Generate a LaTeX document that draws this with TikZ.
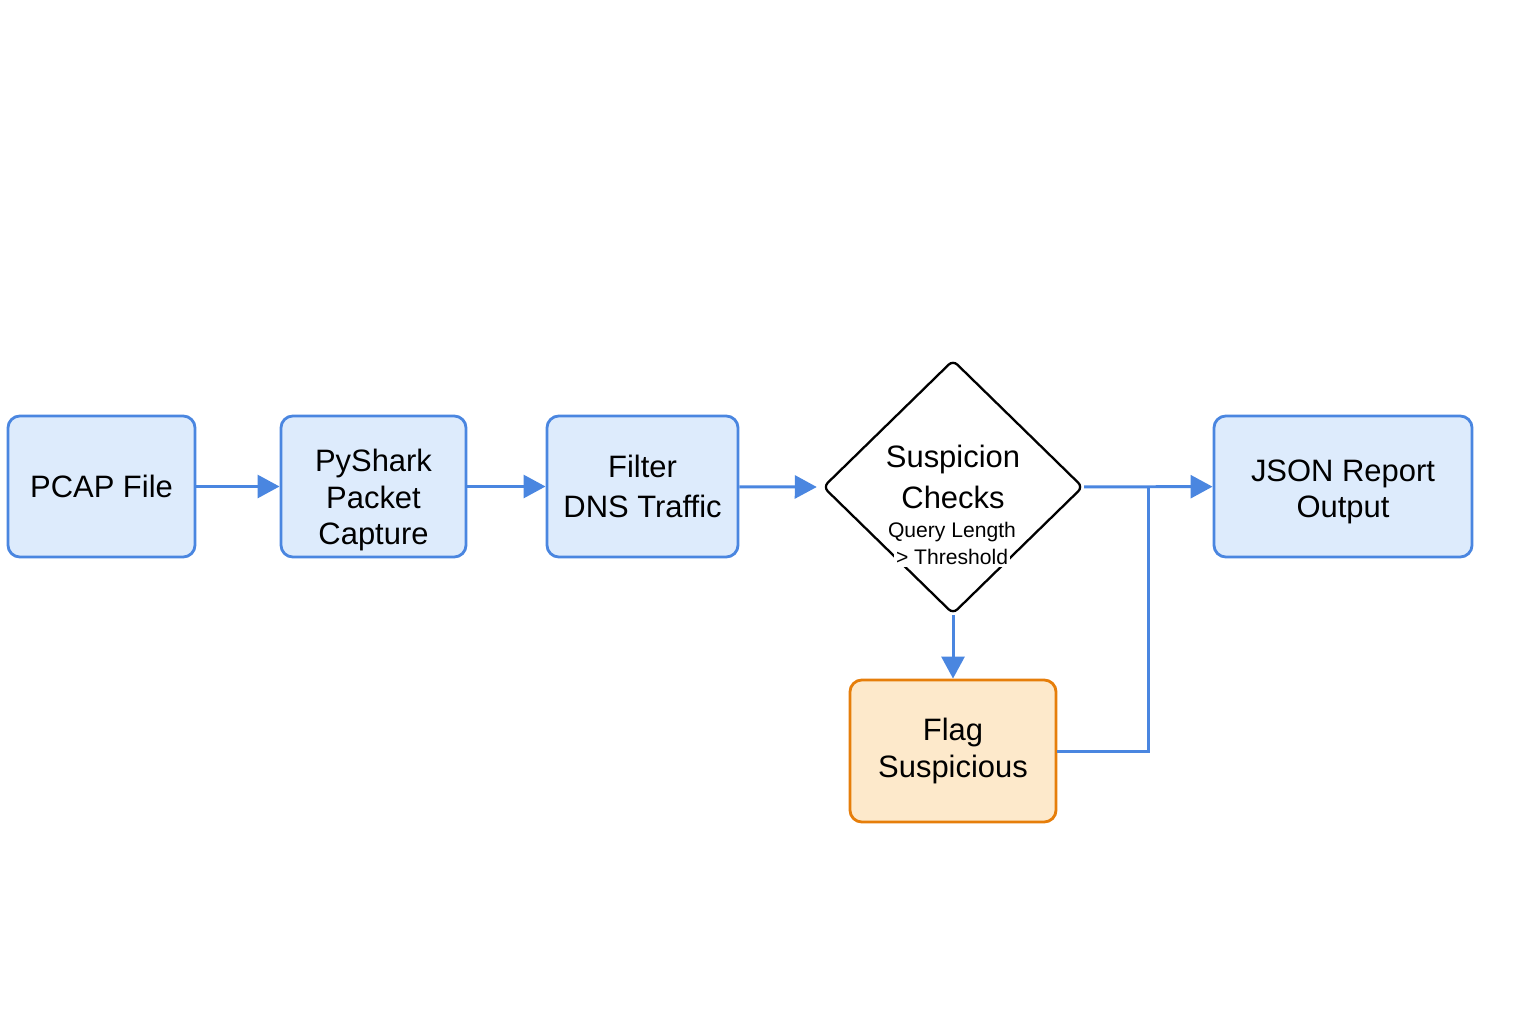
\documentclass[tikz,border=0pt]{standalone}
\usepackage{fontspec}
\setmainfont{Liberation Sans}
\usetikzlibrary{arrows.meta,positioning,shapes.geometric}

\definecolor{flowblue}{HTML}{4A86E0}
\definecolor{boxblue}{HTML}{DDEBFC}
\definecolor{flagfill}{HTML}{FDE9CB}
\definecolor{flagline}{HTML}{E67E0A}

\begin{document}
\begin{tikzpicture}[x=0.01cm,y=-0.01cm,
    every node/.style={font=\fontsize{8.8}{10.4}\selectfont, align=center},
    stage/.style={draw=flowblue, fill=boxblue, line width=0.8pt, rounded corners=0.12cm,
        minimum height=1.41cm, inner sep=0pt},
    flagbox/.style={stage, draw=flagline, fill=flagfill},
    decision/.style={diamond, draw=black, line width=0.65pt, rounded corners=0.06cm,
        minimum width=2.6cm, minimum height=2.54cm, inner sep=0pt},
    small/.style={font=\fontsize{6}{7}\selectfont, inner sep=0.6pt},
    flow/.style={draw=flowblue, line width=0.85pt},
    arrow/.style={flow, -{Triangle[length=0.22cm, width=0.23cm]}}]
    \useasboundingbox (0,0) rectangle (1536,1024);

    % Pipeline stages
    \node[stage, minimum width=1.87cm] (pcap) at (101.5,486.5) {PCAP File};
    \node[stage, minimum width=1.85cm] (pyshark) at (373.5,486.5) {};
    \node[inner sep=0pt] (pysharktext) at (373.5,500) {PyShark\\Packet\\Capture};
    \node[stage, minimum width=1.91cm] (filter) at (642.5,486.5) {Filter\\[1.2pt]DNS Traffic};
    \node[decision] (check) at (953,487) {};
    \node[inner sep=0pt] (checktext) at (953,477) {Suspicion\\[1.2pt]Checks};
    \node[small] (query) at (952,532) {Query Length};
    \node[small, fill=white] (thresh) at (952,557) {> Threshold};
    \node[stage, minimum width=2.58cm] (json) at (1343,486.5) {};
    \node[inner sep=0pt] (jsontext) at (1343,492) {JSON Report\\Output};
    \node[flagbox, minimum width=2.06cm, minimum height=1.42cm] (flag) at (953,751) {Flag\\Suspicious};

    % Connectors
    \draw[arrow] (pcap) -- (pyshark);
    \draw[arrow] (pyshark) -- (filter);
    \draw[arrow] (filter) -- ([xshift=-0.05cm]check.west);
    \draw[arrow] (check) -- (json);
    \draw[arrow] (check) -- (flag);
    \coordinate (merge) at (1148,486.5);
    \draw[flow] (flag.east) -| (merge);
\end{tikzpicture}
\end{document}
